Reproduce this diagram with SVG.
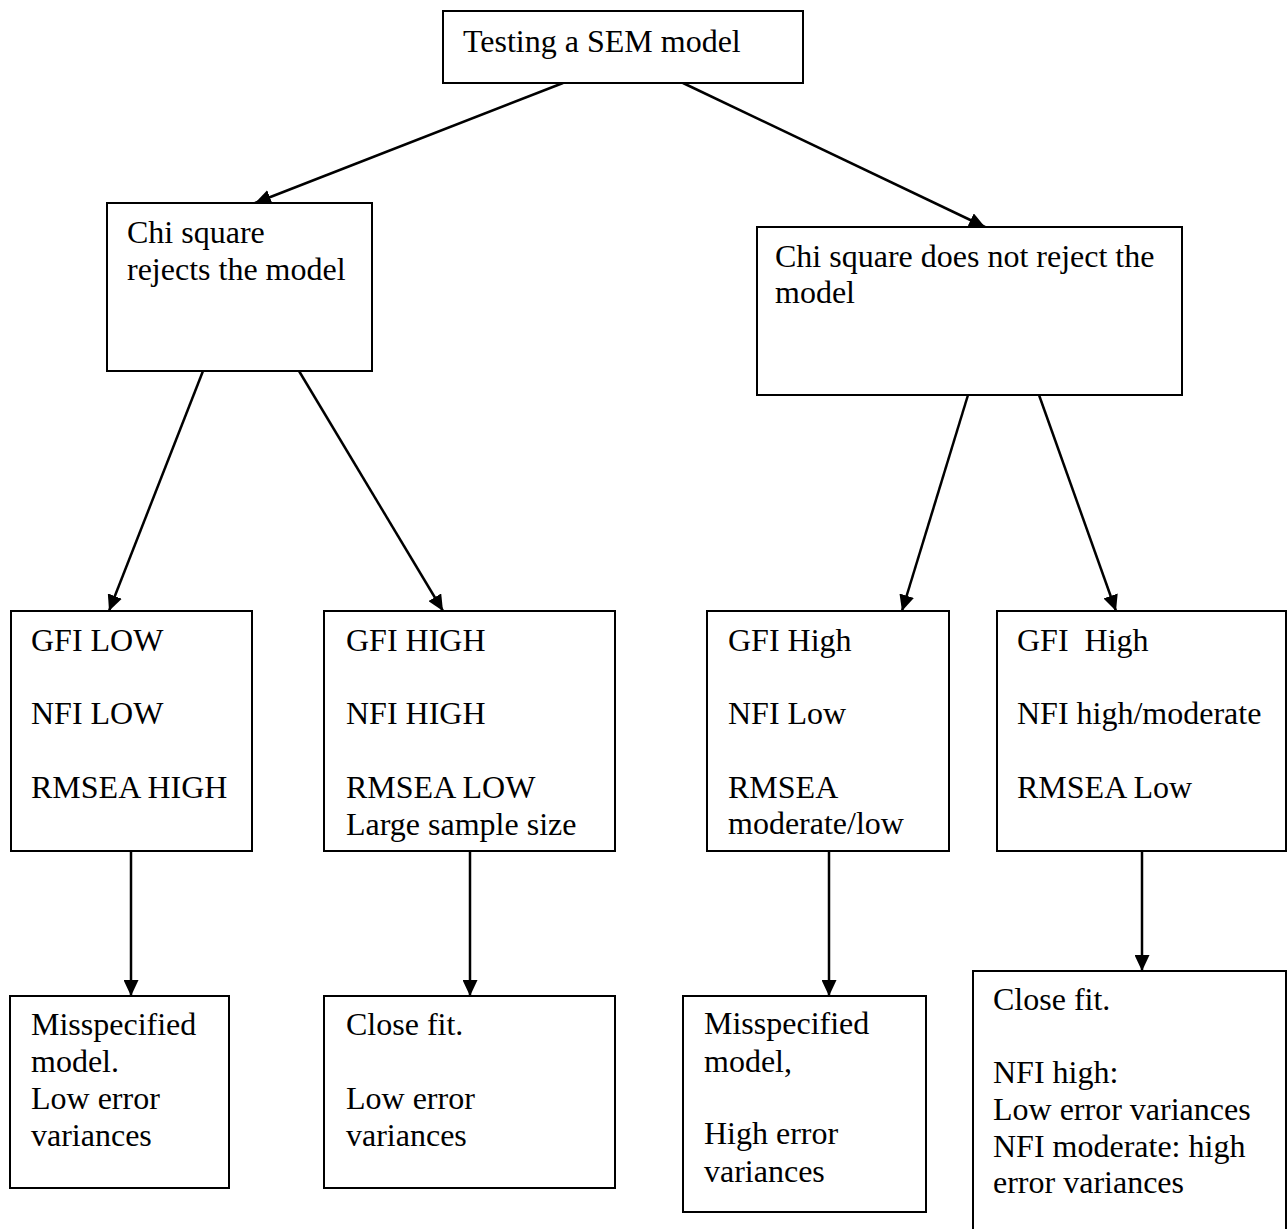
<svg xmlns="http://www.w3.org/2000/svg" width="1288" height="1229" viewBox="0 0 1288 1229">
<style>
.box{fill:#fff;stroke:#000;stroke-width:2}
.t{font-family:"Liberation Serif","Times New Roman",serif;font-size:32px;fill:#000}
.c{stroke:#000;stroke-width:2.5;fill:none;marker-end:url(#ah)}
</style>
<defs>
<marker id="ah" markerUnits="userSpaceOnUse" markerWidth="17" markerHeight="15" refX="16" refY="7.5" orient="auto">
<path d="M0,0 L16,7.5 L0,15 z" fill="#000"/>
</marker>
</defs>
<rect width="1288" height="1229" fill="#fff"/>
<g id="connectors">
<line class="c" x1="563" y1="83" x2="255" y2="203"/>
<line class="c" x1="683" y1="83" x2="985" y2="227"/>
<line class="c" x1="203" y1="371" x2="109" y2="611"/>
<line class="c" x1="299" y1="371" x2="443" y2="611"/>
<line class="c" x1="968" y1="395" x2="902" y2="611"/>
<line class="c" x1="1039" y1="395" x2="1116" y2="611"/>
<line class="c" x1="131" y1="851" x2="131" y2="996"/>
<line class="c" x1="470" y1="851" x2="470" y2="996"/>
<line class="c" x1="829" y1="851" x2="829" y2="996"/>
<line class="c" x1="1142" y1="851" x2="1142" y2="971"/>
</g>
<g id="root">
<rect class="box" x="443" y="11" width="360" height="72"/>
<text class="t" x="463" y="52">Testing a SEM model</text>
</g>
<g id="reject">
<rect class="box" x="107" y="203" width="265" height="168"/>
<text class="t" x="127" y="243">Chi square</text>
<text class="t" x="127" y="280">rejects the model</text>
</g>
<g id="notreject">
<rect class="box" x="757" y="227" width="425" height="168"/>
<text class="t" x="775" y="267">Chi square does not reject the</text>
<text class="t" x="775" y="303">model</text>
</g>
<g id="r2a">
<rect class="box" x="11" y="611" width="241" height="240"/>
<text class="t" x="31" y="651">GFI LOW</text>
<text class="t" x="31" y="724">NFI LOW</text>
<text class="t" x="31" y="798">RMSEA HIGH</text>
</g>
<g id="r2b">
<rect class="box" x="324" y="611" width="291" height="240"/>
<text class="t" x="346" y="651">GFI HIGH</text>
<text class="t" x="346" y="724">NFI HIGH</text>
<text class="t" x="346" y="798">RMSEA LOW</text>
<text class="t" x="346" y="835">Large sample size</text>
</g>
<g id="r2c">
<rect class="box" x="707" y="611" width="242" height="240"/>
<text class="t" x="728" y="651">GFI High</text>
<text class="t" x="728" y="724">NFI Low</text>
<text class="t" x="728" y="798">RMSEA</text>
<text class="t" x="728" y="834">moderate/low</text>
</g>
<g id="r2d">
<rect class="box" x="997" y="611" width="289" height="240"/>
<text class="t" x="1017" y="651" xml:space="preserve">GFI  High</text>
<text class="t" x="1017" y="724">NFI high/moderate</text>
<text class="t" x="1017" y="798">RMSEA Low</text>
</g>
<g id="r3a">
<rect class="box" x="10" y="996" width="219" height="192"/>
<text class="t" x="31" y="1035">Misspecified</text>
<text class="t" x="31" y="1072">model.</text>
<text class="t" x="31" y="1109">Low error</text>
<text class="t" x="31" y="1146">variances</text>
</g>
<g id="r3b">
<rect class="box" x="324" y="996" width="291" height="192"/>
<text class="t" x="346" y="1035">Close fit.</text>
<text class="t" x="346" y="1109">Low error</text>
<text class="t" x="346" y="1146">variances</text>
</g>
<g id="r3c">
<rect class="box" x="683" y="996" width="243" height="216"/>
<text class="t" x="704" y="1034">Misspecified</text>
<text class="t" x="704" y="1072">model,</text>
<text class="t" x="704" y="1144">High error</text>
<text class="t" x="704" y="1182">variances</text>
</g>
<g id="r3d">
<rect class="box" x="973" y="971" width="313" height="280"/>
<text class="t" x="993" y="1010">Close fit.</text>
<text class="t" x="993" y="1083">NFI high:</text>
<text class="t" x="993" y="1120">Low error variances</text>
<text class="t" x="993" y="1157">NFI moderate: high</text>
<text class="t" x="993" y="1193">error variances</text>
</g>
</svg>
